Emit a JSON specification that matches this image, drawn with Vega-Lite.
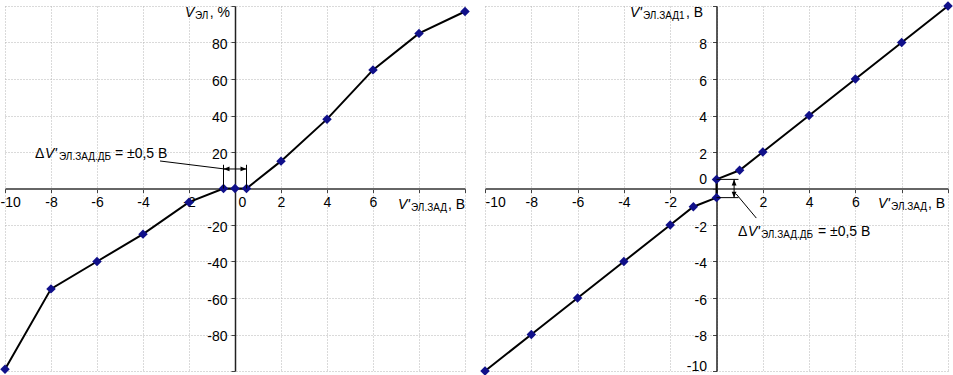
{
  "$schema": "https://vega.github.io/schema/vega-lite/v6.json",
  "padding": {"left": 0, "top": 1, "right": 0, "bottom": 0},
  "background": "white",
  "spacing": 20,
  "bounds": "flush",
  "config": {
    "view": {"stroke": null},
    "font": "Liberation Sans",
    "text": {"font": "Liberation Sans", "color": "black"},
    "axis": {
      "labelFont": "Liberation Sans",
      "labelFontSize": 14,
      "labelColor": "black",
      "gridColor": "#b4b4b4",
      "gridDash": [1, 2],
      "gridWidth": 1,
      "tickColor": "#444",
      "tickSize": 4
    }
  },
  "datasets": {
    "left": [
      {"x": -10, "y": -99}, {"x": -8, "y": -55}, {"x": -6, "y": -40}, {"x": -4, "y": -25},
      {"x": -2, "y": -7.5}, {"x": -0.5, "y": 0}, {"x": 0, "y": 0}, {"x": 0.5, "y": 0},
      {"x": 2, "y": 15}, {"x": 4, "y": 38}, {"x": 6, "y": 65}, {"x": 8, "y": 85}, {"x": 10, "y": 97}
    ],
    "right": [
      {"i": 1, "x": -10, "y": -10}, {"i": 2, "x": -8, "y": -8}, {"i": 3, "x": -6, "y": -6},
      {"i": 4, "x": -4, "y": -4}, {"i": 5, "x": -2, "y": -2}, {"i": 6, "x": -1, "y": -1},
      {"i": 7, "x": 0, "y": -0.5}, {"i": 8, "x": 0, "y": 0.5}, {"i": 9, "x": 1, "y": 1},
      {"i": 10, "x": 2, "y": 2}, {"i": 11, "x": 4, "y": 4}, {"i": 12, "x": 6, "y": 6},
      {"i": 13, "x": 8, "y": 8}, {"i": 14, "x": 10, "y": 10}
    ]
  },
  "hconcat": [
    {
      "width": 460,
      "height": 365,
      "encoding": {
        "x": {
          "type": "quantitative",
          "scale": {"domain": [-10, 10], "nice": false, "zero": false},
          "axis": {
            "values": [-10, -8, -6, -4, -2, 0, 2, 4, 6, 8, 10],
            "grid": true, "offset": -182.5, "title": null,
            "labelExpr": "datum.value >= 8 ? '' : '' + datum.value",
            "labelFlush": true,
            "labelFlushOffset": 5,
            "labelOffset": {"condition": {"test": "datum.value == 0", "value": 7}, "value": 0},
            "labelPadding": 3,
            "domainColor": "#666", "domainWidth": 2
          }
        },
        "y": {
          "type": "quantitative",
          "scale": {"domain": [-100, 100], "nice": false, "zero": false},
          "axis": {
            "values": [-100, -80, -60, -40, -20, 0, 20, 40, 60, 80, 100],
            "grid": true, "offset": -230, "title": null,
            "labelExpr": "datum.value == 0 || abs(datum.value) == 100 ? '' : '' + datum.value",
            "labelPadding": 4,
            "labelOffset": 2,
            "domainColor": "#222", "domainWidth": 1.5
          }
        }
      },
      "layer": [
        {
          "data": {"name": "left"},
          "mark": {"type": "line", "color": "black", "strokeWidth": 2},
          "encoding": {"x": {"field": "x"}, "y": {"field": "y"}}
        },
        {
          "data": {"name": "left"},
          "mark": {"type": "point", "shape": "diamond", "filled": true, "color": "#10108a", "size": 90, "opacity": 1},
          "encoding": {"x": {"field": "x"}, "y": {"field": "y"}}
        },
        {
          "data": {"values": [{}]},
          "mark": {"type": "rule", "color": "black", "strokeWidth": 1},
          "encoding": {"x": {"datum": -0.5}, "y": {"datum": 0}, "y2": {"datum": 13}}
        },
        {
          "data": {"values": [{}]},
          "mark": {"type": "rule", "color": "black", "strokeWidth": 1},
          "encoding": {"x": {"datum": 0.5}, "y": {"datum": 0}, "y2": {"datum": 13}}
        },
        {
          "data": {"values": [{}]},
          "mark": {"type": "rule", "color": "black", "strokeWidth": 1},
          "encoding": {"x": {"datum": -0.5}, "x2": {"datum": 0.5}, "y": {"datum": 10.7}}
        },
        {
          "data": {"values": [{}]},
          "mark": {"type": "rule", "color": "black", "strokeWidth": 1},
          "encoding": {"x": {"datum": -3.26}, "x2": {"datum": -0.45}, "y": {"datum": 15.07}, "y2": {"datum": 10.7}}
        },
        {
          "data": {"values": [{}]},
          "mark": {"type": "point", "shape": "M0,0L1,-0.4L1,0.4Z", "filled": true, "color": "black", "size": 144, "opacity": 1},
          "encoding": {"x": {"datum": -0.5}, "y": {"datum": 10.7}}
        },
        {
          "data": {"values": [{}]},
          "mark": {"type": "point", "shape": "M0,0L-1,-0.4L-1,0.4Z", "filled": true, "color": "black", "size": 144, "opacity": 1},
          "encoding": {"x": {"datum": 0.5}, "y": {"datum": 10.7}}
        },
        {
          "data": {"values": [{}]},
          "mark": {"type": "text", "text": "Δ", "fontSize": 14, "align": "left", "baseline": "alphabetic"},
          "encoding": {"x": {"datum": -8.696}, "y": {"datum": 16.71}}
        },
        {
          "data": {"values": [{}]},
          "mark": {"type": "text", "text": "V'", "fontSize": 14, "fontStyle": "italic", "align": "left", "baseline": "alphabetic"},
          "encoding": {"x": {"datum": -8.261}, "y": {"datum": 16.71}}
        },
        {
          "data": {"values": [{}]},
          "mark": {"type": "text", "text": "ЭЛ.ЗАД.ДБ", "fontSize": 10, "align": "left", "baseline": "alphabetic"},
          "encoding": {"x": {"datum": -7.652}, "y": {"datum": 15.62}}
        },
        {
          "data": {"values": [{}]},
          "mark": {"type": "text", "text": " = ±0,5 В", "fontSize": 14, "align": "left", "baseline": "alphabetic"},
          "encoding": {"x": {"datum": -5.22}, "y": {"datum": 16.71}}
        },
        {
          "data": {"values": [{}]},
          "mark": {"type": "text", "text": "V", "fontSize": 14, "fontStyle": "italic", "align": "left", "baseline": "alphabetic"},
          "encoding": {"x": {"datum": -2.174}, "y": {"datum": 93.97}}
        },
        {
          "data": {"values": [{}]},
          "mark": {"type": "text", "text": "ЭЛ", "fontSize": 10, "align": "left", "baseline": "alphabetic"},
          "encoding": {"x": {"datum": -1.74}, "y": {"datum": 92.88}}
        },
        {
          "data": {"values": [{}]},
          "mark": {"type": "text", "text": ", %", "fontSize": 14, "align": "left", "baseline": "alphabetic"},
          "encoding": {"x": {"datum": -1.1}, "y": {"datum": 93.97}}
        },
        {
          "data": {"values": [{}]},
          "mark": {"type": "text", "text": "V'", "fontSize": 14, "fontStyle": "italic", "align": "left", "baseline": "alphabetic"},
          "encoding": {"x": {"datum": 7.087}, "y": {"datum": -11.23}}
        },
        {
          "data": {"values": [{}]},
          "mark": {"type": "text", "text": "ЭЛ.ЗАД", "fontSize": 10, "align": "left", "baseline": "alphabetic"},
          "encoding": {"x": {"datum": 7.652}, "y": {"datum": -12.33}}
        },
        {
          "data": {"values": [{}]},
          "mark": {"type": "text", "text": ", В", "fontSize": 14, "align": "left", "baseline": "alphabetic"},
          "encoding": {"x": {"datum": 9.26}, "y": {"datum": -11.23}}
        }
      ]
    },
    {
      "width": 463,
      "height": 365,
      "encoding": {
        "x": {
          "type": "quantitative",
          "scale": {"domain": [-10, 10], "nice": false, "zero": false},
          "axis": {
            "values": [-10, -8, -6, -4, -2, 0, 2, 4, 6, 8, 10],
            "grid": true, "offset": -182.5, "title": null,
            "labelExpr": "datum.value == 0 || datum.value >= 8 ? '' : '' + datum.value",
            "labelFlush": true,
            "labelPadding": 3,
            "domainColor": "#666", "domainWidth": 2
          }
        },
        "y": {
          "type": "quantitative",
          "scale": {"domain": [-10, 10], "nice": false, "zero": false},
          "axis": {
            "values": [-10, -8, -6, -4, -2, 0, 2, 4, 6, 8, 10],
            "grid": true, "offset": -231.5, "title": null,
            "labelExpr": "datum.value == 10 ? '' : '' + datum.value",
            "labelPadding": 6,
            "labelOffset": {"condition": {"test": "datum.value == 0", "value": -9.5}, "value": 2},
            "labelBaseline": {"condition": {"test": "datum.value == -10", "value": "bottom"}, "value": "middle"},
            "domainColor": "#222", "domainWidth": 1.5
          }
        }
      },
      "layer": [
        {
          "data": {"name": "right"},
          "mark": {"type": "line", "color": "black", "strokeWidth": 2},
          "encoding": {"x": {"field": "x"}, "y": {"field": "y"}, "order": {"field": "i", "type": "quantitative"}}
        },
        {
          "data": {"name": "right"},
          "mark": {"type": "point", "shape": "diamond", "filled": true, "color": "#10108a", "size": 90, "opacity": 1},
          "encoding": {"x": {"field": "x"}, "y": {"field": "y"}}
        },
        {
          "data": {"values": [{}]},
          "mark": {"type": "rule", "color": "black", "strokeWidth": 1},
          "encoding": {"x": {"datum": 0}, "x2": {"datum": 0.95}, "y": {"datum": 0.5}}
        },
        {
          "data": {"values": [{}]},
          "mark": {"type": "rule", "color": "black", "strokeWidth": 1},
          "encoding": {"x": {"datum": 0}, "x2": {"datum": 0.95}, "y": {"datum": -0.5}}
        },
        {
          "data": {"values": [{}]},
          "mark": {"type": "rule", "color": "black", "strokeWidth": 1},
          "encoding": {"x": {"datum": 0.76}, "y": {"datum": -0.5}, "y2": {"datum": 0.5}}
        },
        {
          "data": {"values": [{}]},
          "mark": {"type": "rule", "color": "black", "strokeWidth": 1},
          "encoding": {"x": {"datum": 0.85}, "x2": {"datum": 1.72}, "y": {"datum": -0.3}, "y2": {"datum": -1.62}}
        },
        {
          "data": {"values": [{}]},
          "mark": {"type": "point", "shape": "M0,0L-0.4,1L0.4,1Z", "filled": true, "color": "black", "size": 144, "opacity": 1},
          "encoding": {"x": {"datum": 0.76}, "y": {"datum": 0.5}}
        },
        {
          "data": {"values": [{}]},
          "mark": {"type": "point", "shape": "M0,0L-0.4,-1L0.4,-1Z", "filled": true, "color": "black", "size": 144, "opacity": 1},
          "encoding": {"x": {"datum": 0.76}, "y": {"datum": -0.5}}
        },
        {
          "data": {"values": [{}]},
          "mark": {"type": "text", "text": "Δ", "fontSize": 14, "align": "left", "baseline": "alphabetic"},
          "encoding": {"x": {"datum": 0.929}, "y": {"datum": -2.6}}
        },
        {
          "data": {"values": [{}]},
          "mark": {"type": "text", "text": "V'", "fontSize": 14, "fontStyle": "italic", "align": "left", "baseline": "alphabetic"},
          "encoding": {"x": {"datum": 1.361}, "y": {"datum": -2.6}}
        },
        {
          "data": {"values": [{}]},
          "mark": {"type": "text", "text": "ЭЛ.ЗАД.ДБ", "fontSize": 10, "align": "left", "baseline": "alphabetic"},
          "encoding": {"x": {"datum": 1.92}, "y": {"datum": -2.71}}
        },
        {
          "data": {"values": [{}]},
          "mark": {"type": "text", "text": " = ±0,5 В", "fontSize": 14, "align": "left", "baseline": "alphabetic"},
          "encoding": {"x": {"datum": 4.38}, "y": {"datum": -2.6}}
        },
        {
          "data": {"values": [{}]},
          "mark": {"type": "text", "text": "V'", "fontSize": 14, "fontStyle": "italic", "align": "left", "baseline": "alphabetic"},
          "encoding": {"x": {"datum": -3.737}, "y": {"datum": 9.397}}
        },
        {
          "data": {"values": [{}]},
          "mark": {"type": "text", "text": "ЭЛ.ЗАД1", "fontSize": 10, "align": "left", "baseline": "alphabetic"},
          "encoding": {"x": {"datum": -3.175}, "y": {"datum": 9.288}}
        },
        {
          "data": {"values": [{}]},
          "mark": {"type": "text", "text": ", В", "fontSize": 14, "align": "left", "baseline": "alphabetic"},
          "encoding": {"x": {"datum": -1.318}, "y": {"datum": 9.397}}
        },
        {
          "data": {"values": [{}]},
          "mark": {"type": "text", "text": "V'", "fontSize": 14, "fontStyle": "italic", "align": "left", "baseline": "alphabetic"},
          "encoding": {"x": {"datum": 6.976}, "y": {"datum": -1.068}}
        },
        {
          "data": {"values": [{}]},
          "mark": {"type": "text", "text": "ЭЛ.ЗАД", "fontSize": 10, "align": "left", "baseline": "alphabetic"},
          "encoding": {"x": {"datum": 7.54}, "y": {"datum": -1.178}}
        },
        {
          "data": {"values": [{}]},
          "mark": {"type": "text", "text": ", В", "fontSize": 14, "align": "left", "baseline": "alphabetic"},
          "encoding": {"x": {"datum": 9.136}, "y": {"datum": -1.068}}
        }
      ]
    }
  ]
}
